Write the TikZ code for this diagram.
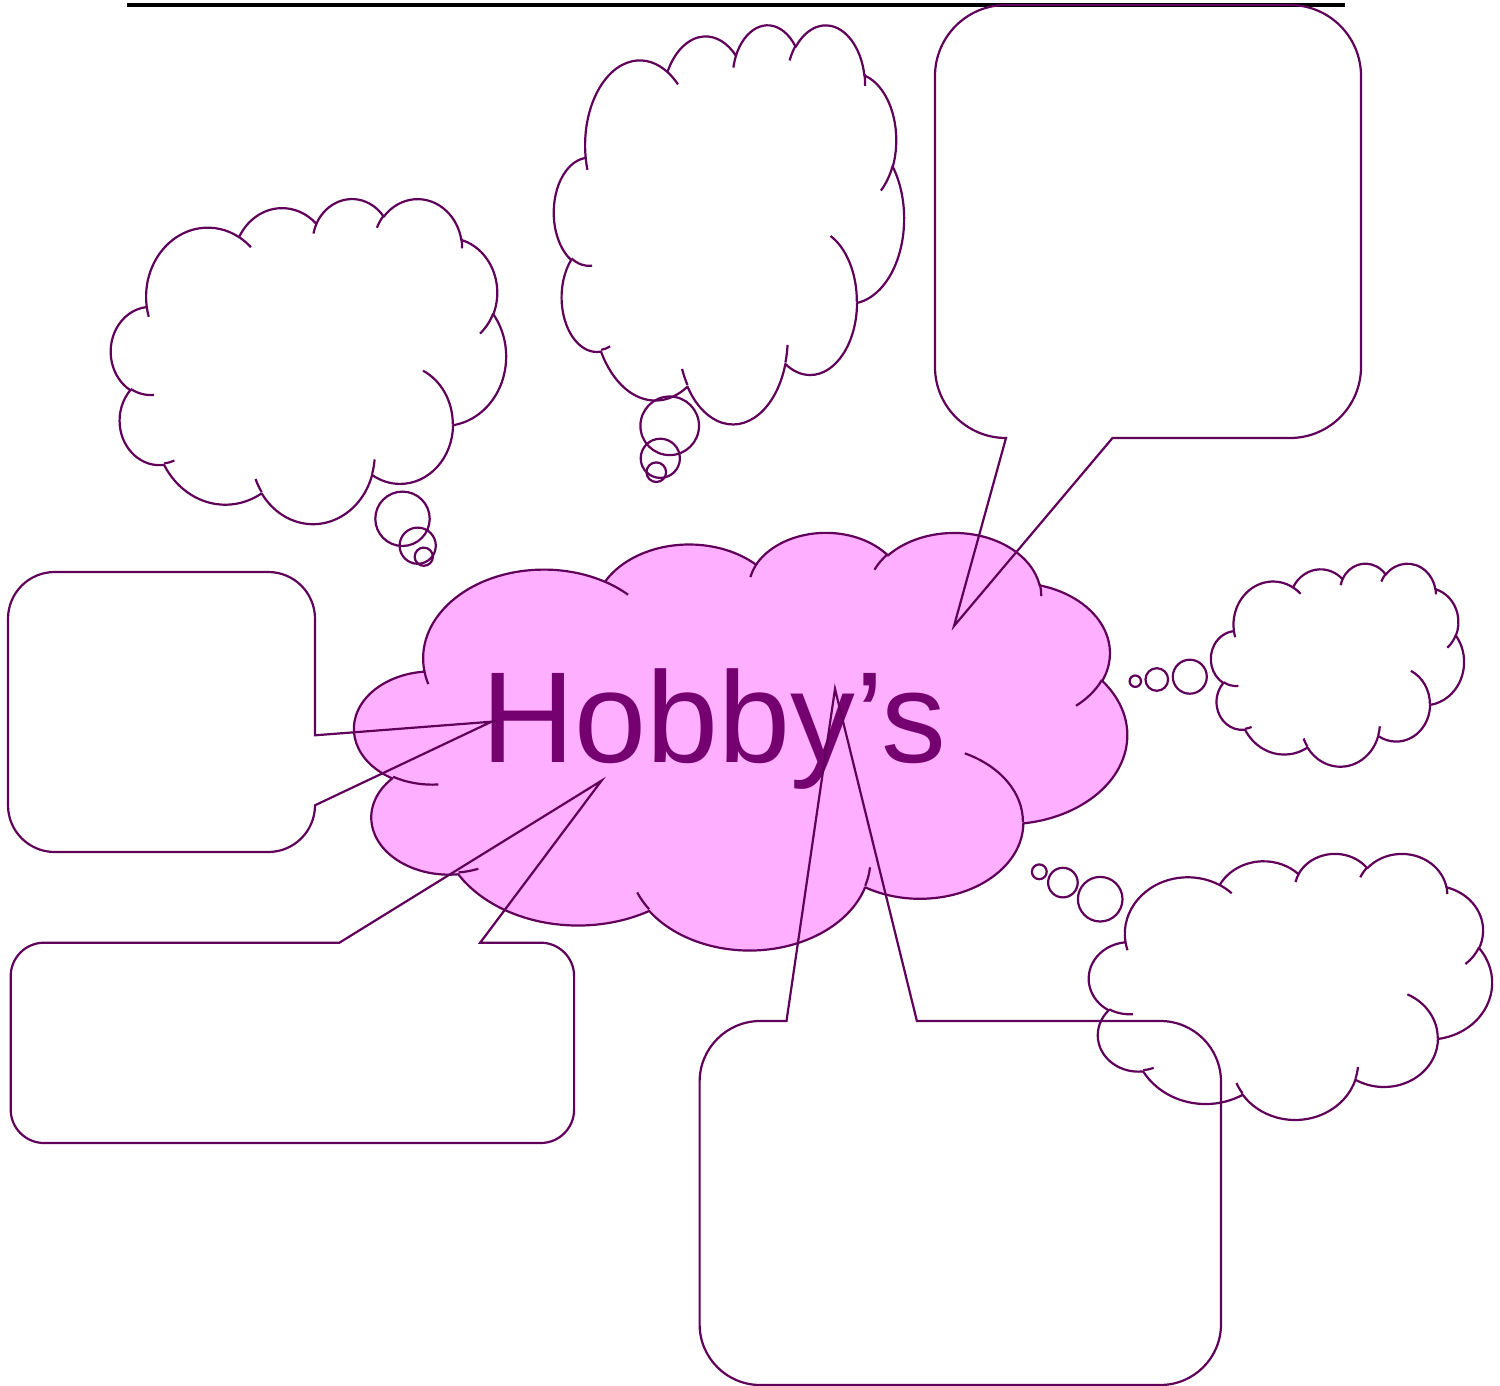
\documentclass[tikz,border=0pt]{standalone}
\usepackage{fontspec}
\newfontfamily\hobbyfont{Liberation Sans}
\definecolor{outl}{RGB}{96,0,90}
\definecolor{txtp}{RGB}{117,0,112}
\definecolor{pinkf}{RGB}{255,175,255}

% accumulate DrawingML-style arcs (visual angles) as TikZ parametric arcs
\newcommand\ooxacc{}
\newcommand\ooxaddarc[4]{%
  \pgfmathsetmacro\ooxtA{atan2((#1)*sin(#3),(#2)*cos(#3))}%
  \pgfmathsetmacro\ooxtB{atan2((#1)*sin((#3)+(#4)),(#2)*cos((#3)+(#4)))}%
  \pgfmathsetmacro\ooxtD{mod((\ooxtB)-(\ooxtA)+720,360)}%
  \xdef\ooxacc{\ooxacc arc[x radius=#1,y radius=#2,start angle=\ooxtA,delta angle=\ooxtD]}%
}
\newcommand\ooxaddmove[2]{\xdef\ooxacc{\ooxacc (#1,#2)}}

\gdef\ooxacc{}
\ooxaddarc{6.753}{9.190}{-190.4875}{123.7805}
\ooxaddarc{5.333}{7.267}{-144.1024}{89.9452}
\ooxaddarc{4.365}{5.945}{-145.8079}{99.7230}
\ooxaddarc{4.857}{6.595}{-130.9861}{117.2417}
\ooxaddarc{5.333}{7.273}{-78.7089}{109.0269}
\ooxaddarc{6.775}{9.220}{-46.2673}{130.2690}
\ooxaddarc{5.785}{7.867}{0.6250}{114.0333}
\ooxaddarc{6.752}{9.215}{22.4516}{115.1726}
\ooxaddarc{7.720}{10.543}{66.2426}{75.7110}
\ooxaddarc{4.360}{5.918}{-274.9421}{146.7356}
\ooxaddarc{4.345}{5.945}{-246.8285}{152.5189}
\global\let\cloudMain\ooxacc

\gdef\ooxacc{}
\ooxaddmove{4.693}{26.177}\ooxaddarc{4.345}{5.945}{86.7420}{26.4295}
\ooxaddmove{6.928}{34.899}\ooxaddarc{4.360}{5.918}{73.6105}{11.4475}
\ooxaddmove{16.478}{39.090}\ooxaddarc{6.752}{9.215}{137.6242}{14.0811}
\ooxaddmove{28.827}{34.751}\ooxaddarc{6.752}{9.215}{6.4533}{15.9984}
\ooxaddmove{34.129}{22.954}\ooxaddarc{5.785}{7.867}{-70.2924}{70.9174}
\ooxaddmove{41.798}{15.354}\ooxaddarc{5.333}{7.273}{30.3180}{27.7515}
\ooxaddmove{38.324}{5.426}\ooxaddarc{4.857}{6.595}{-13.7443}{14.8589}
\ooxaddmove{29.078}{3.952}\ooxaddarc{4.857}{6.595}{-149.1815}{18.1954}
\ooxaddmove{22.141}{4.720}\ooxaddarc{4.365}{5.945}{-163.4943}{17.6864}
\ooxaddmove{14.000}{5.192}\ooxaddarc{6.753}{9.190}{-66.7070}{12.3194}
\ooxaddmove{4.127}{15.789}\ooxaddarc{6.753}{9.190}{157.6544}{11.8582}
\global\let\cloudInner\ooxacc

\tikzset{
  cloudline/.style={draw=outl, line width=1.1pt, line join=round},
  calloutline/.style={draw=outl, line width=1.1pt, line join=miter},
  bubble/.style={draw=outl, line width=1.1pt},
}

% #1 extra style, #2 x0, #3 y0, #4 w, #5 h  (pixel units)
\newcommand\cloudshape[5]{%
  \begin{scope}[shift={(#2,#3)}, xscale=#4/43.2, yscale=#5/43.2]
    \draw[cloudline,#1] (3.9,14.37) \cloudMain -- cycle;
    \draw[cloudline] \cloudInner;
  \end{scope}}

\begin{document}
\begin{tikzpicture}[x=0.5pt, y=-0.5pt]
\useasboundingbox (0,0) rectangle (1500,1386);

% top rule
\coordinate (ruleL) at (127,5);
\coordinate (ruleR) at (1345,5);
\draw[line width=1.65pt, black] (ruleL) -- (ruleR);

% thought clouds
\cloudshape{}{111}{198}{395}{325}
\draw[bubble] (402.5,518.8) circle[radius=27.2];
\draw[bubble] (417.7,545.7) circle[radius=18.1];
\draw[bubble] (423.8,556.7) circle[radius=9.1];

\cloudshape{}{554}{24}{350}{399}
\draw[bubble] (669.7,425.8) circle[radius=29.3];
\draw[bubble] (660.3,458.3) circle[radius=19.6];
\draw[bubble] (656.3,472.2) circle[radius=9.8];

\cloudshape{}{1211}{563}{253}{203}
\draw[bubble] (1189.8,676.7) circle[radius=17];
\draw[bubble] (1156.8,679.5) circle[radius=11.3];
\draw[bubble] (1135.3,681.2) circle[radius=5.7];

\cloudshape{}{1089}{853}{403}{266}
\draw[bubble] (1100.2,899.2) circle[radius=22.3];
\draw[bubble] (1062.9,882.6) circle[radius=14.8];
\draw[bubble] (1039.3,871.8) circle[radius=7.4];

% central pink cloud
\cloudshape{fill=pinkf}{354.5}{531.5}{772.5}{417.5}
\node[anchor=base west, inner sep=0pt, text=txtp,
      font=\hobbyfont\fontsize{64.75}{70}\selectfont] (title) at (480.8,762) {Hobby’s};

% top-right callout
\coordinate (trTip) at (954,626);
\draw[calloutline] (935,76) arc[start angle=180,end angle=270,radius=71]
  -- (1290,5) arc[start angle=270,end angle=360,radius=71]
  -- (1361,367) arc[start angle=0,end angle=90,radius=71]
  -- (1112.5,438) -- (trTip) -- (1006,438)
  arc[start angle=90,end angle=180,radius=71] -- cycle;

% middle-left callout
\coordinate (mlTip) at (491.5,721.7);
\draw[calloutline] (8,618.7) arc[start angle=180,end angle=270,radius=46.7]
  -- (268.3,572) arc[start angle=270,end angle=360,radius=46.7]
  -- (315,735.3) -- (mlTip) -- (315,805.3)
  arc[start angle=0,end angle=90,radius=46.7]
  -- (54.7,852) arc[start angle=90,end angle=180,radius=46.7] -- cycle;

% bottom-left callout
\coordinate (blTip) at (601.5,780.7);
\draw[calloutline] (10.7,976.1) arc[start angle=180,end angle=270,radius=33.4]
  -- (339.4,942.7) -- (blTip) -- (480.2,942.7)
  -- (540.7,942.7) arc[start angle=270,end angle=360,radius=33.4]
  -- (574.1,1109.6) arc[start angle=0,end angle=90,radius=33.4]
  -- (44.1,1143) arc[start angle=90,end angle=180,radius=33.4] -- cycle;

% bottom-centre callout
\coordinate (bcTip) at (835,689);
\draw[calloutline] (699.6,1081.7) arc[start angle=180,end angle=270,radius=60.7]
  -- (786.5,1021) -- (bcTip) -- (916.9,1021)
  -- (1160.3,1021) arc[start angle=270,end angle=360,radius=60.7]
  -- (1221,1324.3) arc[start angle=0,end angle=90,radius=60.7]
  -- (760.3,1385) arc[start angle=90,end angle=180,radius=60.7] -- cycle;
\end{tikzpicture}
\end{document}
